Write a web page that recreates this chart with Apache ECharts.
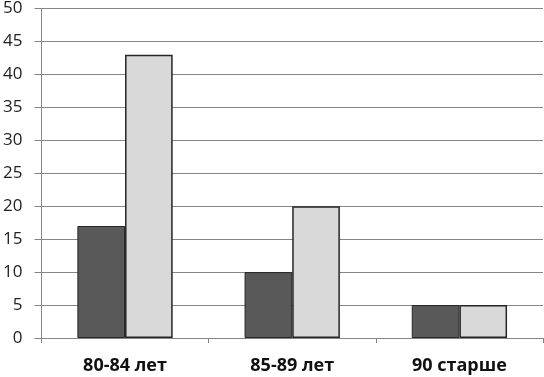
<!DOCTYPE html>
<html>
<head>
<meta charset="utf-8">
<script src="https://cdn.jsdelivr.net/npm/echarts@6/dist/echarts.min.js"></script>
<style>
  html, body { margin: 0; padding: 0; background: #fff; }
  #chart { width: 544px; height: 377px; }
</style>
</head>
<body>
<div id="chart"></div>
<script>
    // категории и значения
    var categories = ['80-84 лет', '85-89 лет', '90 старше'];
    var seriesDark = [17, 10, 5];
    var seriesLight = [43, 20, 5];

    var chart = echarts.init(document.getElementById('chart'), null, { renderer: 'canvas' });

    var option = {
        animation: false,
        grid: {
            left: 40,
            right: 1,
            top: 7,
            bottom: 39
        },
        xAxis: {
            type: 'category',
            data: categories,
            axisLine: { lineStyle: { color: '#868686', width: 1 } },
            axisTick: { show: true, length: 5, lineStyle: { color: '#868686' } },
            axisLabel: {
                margin: 19,
                color: '#111',
                fontSize: 18,
                fontWeight: 'bold',
                fontFamily: 'Open Sans'
            }
        },
        yAxis: {
            type: 'value',
            min: 0,
            max: 50,
            interval: 5,
            axisLine: { show: true, lineStyle: { color: '#868686' } },
            axisTick: { show: true, length: 7, lineStyle: { color: '#868686' } },
            splitLine: { lineStyle: { color: '#868686', width: 1 } },
            axisLabel: {
                margin: 19,
                color: '#222',
                fontSize: 17,
                fontFamily: 'Open Sans'
            }
        },
        series: [
            {
                name: 'dark',
                type: 'bar',
                data: seriesDark,
                barGap: '0%',
                barCategoryGap: '43%',
                itemStyle: { color: '#595959', borderColor: '#262626', borderWidth: 1 }
            },
            {
                name: 'light',
                type: 'bar',
                data: seriesLight,
                itemStyle: { color: '#d9d9d9', borderColor: '#262626', borderWidth: 1.5 }
            }
        ]
    };

    chart.setOption(option);
</script>
</body>
</html>
